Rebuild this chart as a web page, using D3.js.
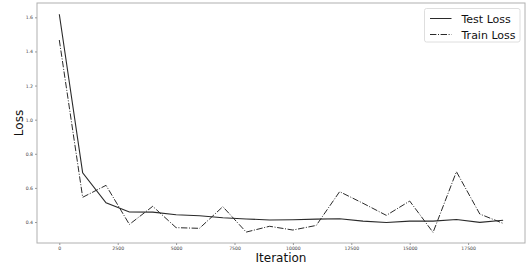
<!DOCTYPE html>
<html>
<head>
<meta charset="utf-8">
<script src="https://cdn.jsdelivr.net/npm/d3@7"></script>
<style>
  body { margin: 0; background: #fff; }
  svg text { font-family: "DejaVu Sans", sans-serif; }
</style>
</head>
<body>
<div id="chart"></div>
<script>
// iterations
const iterations = [0, 1000, 2000, 3000, 4000, 5000, 6000, 7000, 8000, 9000,
  10000, 11000, 12000, 13000, 14000, 15000, 16000, 17000, 18000, 19000];
const testLoss = [1.618, 0.689, 0.513, 0.459, 0.458, 0.443, 0.437, 0.425, 0.418, 0.412,
  0.413, 0.417, 0.419, 0.405, 0.397, 0.405, 0.405, 0.415, 0.398, 0.41];
const trainLoss = [1.467, 0.545, 0.615, 0.386, 0.492, 0.367, 0.363, 0.49, 0.341, 0.375,
  0.353, 0.38, 0.578, 0.51, 0.439, 0.523, 0.339, 0.695, 0.447, 0.392];
const xTicks = [0, 2500, 5000, 7500, 10000, 12500, 15000, 17500];
const yTicks = [0.4, 0.6, 0.8, 1.0, 1.2, 1.4, 1.6];
const seriesNames = ["Test Loss", "Train Loss"];

const W = 526, H = 271;
const plot = {left: 37, right: 525, top: 3, bottom: 243};

const svg = d3.select("#chart").append("svg")
  .attr("width", W).attr("height", H);

const x = d3.scaleLinear().domain([-955, 19936]).range([plot.left, plot.right]);
const y = d3.scaleLinear().domain([0.277, 1.684]).range([plot.bottom, plot.top]);

// frame
svg.append("rect")
  .attr("x", plot.left).attr("y", plot.top)
  .attr("width", plot.right - plot.left).attr("height", plot.bottom - plot.top)
  .attr("fill", "none").attr("stroke", "#b0b0b0").attr("stroke-width", 1);

const xAxis = svg.append("g")
  .attr("transform", `translate(0,${plot.bottom})`)
  .call(d3.axisBottom(x).tickValues(xTicks).tickSize(2).tickPadding(2).tickFormat(d3.format("d")));
const yAxis = svg.append("g")
  .attr("transform", `translate(${plot.left},0)`)
  .call(d3.axisLeft(y).tickValues(yTicks).tickSize(2).tickPadding(2).tickFormat(d3.format(".1f")));

[xAxis, yAxis].forEach(a => {
  a.select(".domain").remove();
  a.selectAll(".tick line").attr("stroke", "#999");
  a.selectAll(".tick text").attr("fill", "#444").style("font-size", "4.6px");
});

// axis titles
svg.append("text")
  .attr("x", (plot.left + plot.right) / 2).attr("y", 262)
  .attr("text-anchor", "middle").style("font-size", "12px").attr("fill", "#111")
  .text("Iteration");
svg.append("text")
  .attr("transform", `translate(23,${(plot.top + plot.bottom) / 2}) rotate(-90)`)
  .attr("text-anchor", "middle").style("font-size", "12px").attr("fill", "#111")
  .text("Loss");

const line = d3.line()
  .x((d, i) => x(iterations[i]))
  .y(d => y(d));

svg.append("path")
  .datum(testLoss)
  .attr("d", line)
  .attr("fill", "none").attr("stroke", "#2a2a2a").attr("stroke-width", 1.1);

svg.append("path")
  .datum(trainLoss)
  .attr("d", line)
  .attr("fill", "none").attr("stroke", "#2a2a2a").attr("stroke-width", 1)
  .attr("stroke-dasharray", "6.4,1.6,1,1.6");

// legend
const legend = svg.append("g").attr("transform", "translate(424.5,8.5)");
legend.append("rect")
  .attr("width", 95.5).attr("height", 33.5).attr("rx", 2)
  .attr("fill", "#fff").attr("stroke", "#d6d6d6").attr("stroke-width", 0.8);
const dashes = [null, "6.4,1.6,1,1.6"];
seriesNames.forEach((name, i) => {
  const g = legend.append("g").attr("transform", `translate(0,${10 + i * 16})`);
  g.append("line")
    .attr("x1", 5.5).attr("x2", 27).attr("y1", 0).attr("y2", 0)
    .attr("stroke", "#2a2a2a").attr("stroke-width", 1)
    .attr("stroke-dasharray", dashes[i]);
  g.append("text")
    .attr("x", 37).attr("y", 4)
    .style("font-size", "11px").attr("fill", "#111")
    .text(name);
});
</script>
</body>
</html>
